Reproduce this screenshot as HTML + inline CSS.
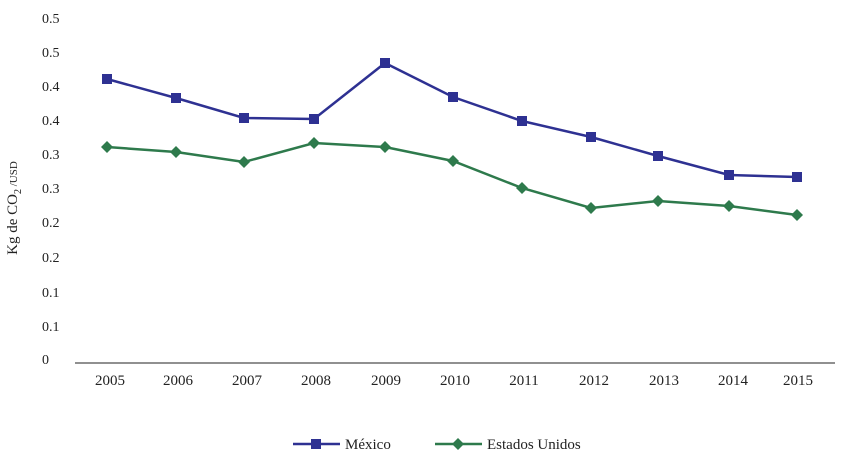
<!DOCTYPE html>
<html><head><meta charset="utf-8"><style>
html,body{margin:0;padding:0;background:#fff;}
svg text{font-family:"Liberation Serif",serif;fill:#222;}
</style></head><body>
<svg width="841" height="470" xmlns="http://www.w3.org/2000/svg">
<g font-size="14" text-anchor="start">
<text x="42" y="23">0.5</text><text x="42" y="57">0.5</text><text x="42" y="91">0.4</text>
<text x="42" y="125">0.4</text><text x="42" y="159">0.3</text><text x="42" y="193">0.3</text>
<text x="42" y="227">0.2</text><text x="42" y="262">0.2</text><text x="42" y="297">0.1</text>
<text x="42" y="331">0.1</text><text x="42" y="364">0</text>
</g>
<text transform="translate(17,208) rotate(-90)" font-size="15" text-anchor="middle">Kg de CO<tspan font-size="10" dy="4">2</tspan><tspan dy="-4" font-size="11"> /USD</tspan></text>
<line x1="75" y1="363" x2="835" y2="363" stroke="#222" stroke-width="1"/>
<g font-size="15" text-anchor="middle">
<text x="110" y="385">2005</text><text x="178" y="385">2006</text><text x="247" y="385">2007</text>
<text x="316" y="385">2008</text><text x="386" y="385">2009</text><text x="455" y="385">2010</text>
<text x="524" y="385">2011</text><text x="594" y="385">2012</text><text x="664" y="385">2013</text>
<text x="733" y="385">2014</text><text x="798" y="385">2015</text>
</g>
<polyline fill="none" stroke="#2e3192" stroke-width="2.5" points="107,79 176,98 244,118 314,119 385,63 453,97 522,121 591,137 658,156 729,175 797,177"/>
<g fill="#2e3192">
<rect x="102" y="74" width="10" height="10"/><rect x="171" y="93" width="10" height="10"/><rect x="239" y="113" width="10" height="10"/><rect x="309" y="114" width="10" height="10"/><rect x="380" y="58" width="10" height="10"/><rect x="448" y="92" width="10" height="10"/><rect x="517" y="116" width="10" height="10"/><rect x="586" y="132" width="10" height="10"/><rect x="653" y="151" width="10" height="10"/><rect x="724" y="170" width="10" height="10"/><rect x="792" y="172" width="10" height="10"/>
</g>
<polyline fill="none" stroke="#2e7a4c" stroke-width="2.5" points="107,147 176,152 244,162 314,143 385,147 453,161 522,188 591,208 658,201 729,206 797,215"/>
<g fill="#2e7a4c">
<path d="M107 141l6 6-6 6-6-6z"/><path d="M176 146l6 6-6 6-6-6z"/><path d="M244 156l6 6-6 6-6-6z"/><path d="M314 137l6 6-6 6-6-6z"/><path d="M385 141l6 6-6 6-6-6z"/><path d="M453 155l6 6-6 6-6-6z"/><path d="M522 182l6 6-6 6-6-6z"/><path d="M591 202l6 6-6 6-6-6z"/><path d="M658 195l6 6-6 6-6-6z"/><path d="M729 200l6 6-6 6-6-6z"/><path d="M797 209l6 6-6 6-6-6z"/>
</g>
<line x1="293" y1="444" x2="340" y2="444" stroke="#2e3192" stroke-width="2.5"/>
<rect x="311" y="439" width="10" height="10" fill="#2e3192"/>
<text x="345" y="449" font-size="15">México</text>
<line x1="435" y1="444" x2="482" y2="444" stroke="#2e7a4c" stroke-width="2.5"/>
<path d="M458 438l6 6-6 6-6-6z" fill="#2e7a4c"/>
<text x="487" y="449" font-size="15">Estados Unidos</text>
</svg>
</body></html>
